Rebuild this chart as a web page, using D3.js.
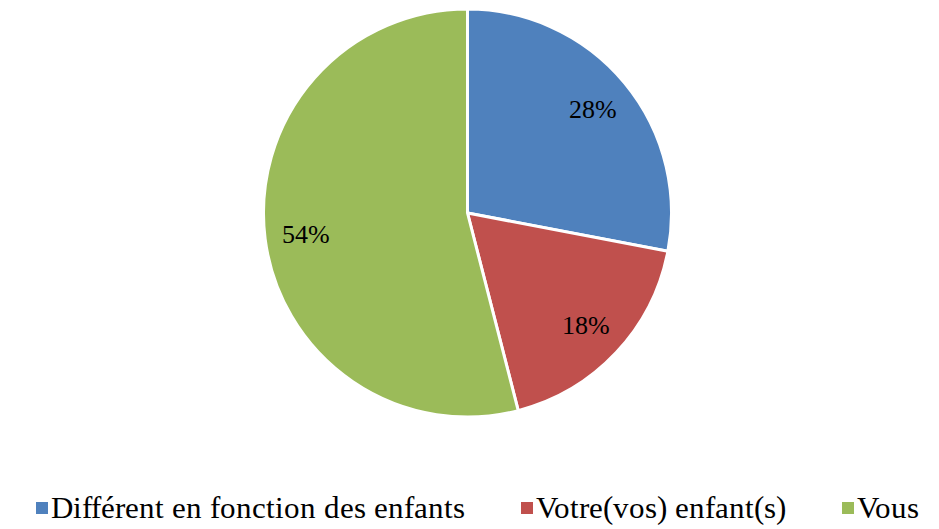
<!DOCTYPE html>
<html>
<head>
<meta charset="utf-8">
<script src="https://cdn.jsdelivr.net/npm/d3@7"></script>
<style>
  @font-face {
    font-family: "ChartSerif";
    src: local("Liberation Serif"), local("LiberationSerif"), local("Times New Roman");
  }
</style>
</head>
<body style="margin:0">
<svg id="chart" width="939" height="529" style="display:block"></svg>
<script>
// Répartition des réponses
const categories = ["Différent en fonction des enfants", "Votre(vos) enfant(s)", "Vous"];
const values = [28, 18, 54];
const colors = ["#4F81BD", "#C0504D", "#9BBB59"];

const SERIF = "ChartSerif, 'Times New Roman', serif";

function draw() {
  const svg = d3.select("#chart");
  const width = 939;
  const cx = 467.5, cy = 213, radius = 204;

  const pie = d3.pie().sort(null).value(d => d.value);
  const data = categories.map((c, i) => ({ name: c, value: values[i], color: colors[i] }));
  const arcs = pie(data);

  const arc = d3.arc().innerRadius(0).outerRadius(radius);
  const labelArc = d3.arc().innerRadius(radius * 0.8).outerRadius(radius * 0.8);

  const g = svg.append("g").attr("transform", `translate(${cx},${cy})`);

  g.selectAll(null)
    .data(arcs)
    .enter().append("path")
    .attr("d", arc)
    .attr("fill", d => d.data.color)
    .attr("stroke", "#fff")
    .attr("stroke-width", 3)
    .attr("stroke-linejoin", "round");

  // Pourcentages dans les secteurs
  const total = d3.sum(values);
  arcs.forEach(d => {
    const [lx, ly] = labelArc.centroid(d);
    g.append("text")
      .attr("x", lx)
      .attr("y", ly)
      .attr("text-anchor", "middle")
      .attr("dy", "0.35em")
      .style("font-family", SERIF)
      .style("font-size", "26px")
      .text(d3.format(".0%")(d.data.value / total));
  });

  // Légende
  const legendY = 508;
  const box = 12, boxGap = 3, itemGap = 56;
  const legendNodes = data.map(d => {
    const item = svg.append("g");
    item.append("rect")
      .attr("width", box)
      .attr("height", box)
      .attr("y", legendY - box / 2)
      .attr("fill", d.color);
    const label = item.append("text")
      .attr("x", box + boxGap)
      .attr("y", legendY)
      .attr("dy", "0.32em")
      .style("font-family", SERIF)
      .style("font-size", "31px")
      .text(d.name);
    return { item, label };
  });

  const widths = legendNodes.map(n => box + boxGap + n.label.node().getComputedTextLength());
  const totalW = d3.sum(widths) + itemGap * (widths.length - 1);
  let x0 = (width - totalW) / 2 + 8;
  legendNodes.forEach((n, i) => {
    n.item.attr("transform", `translate(${x0},0)`);
    x0 += widths[i] + itemGap;
  });
}

document.fonts.load("31px ChartSerif").then(draw, draw);
</script>
</body>
</html>
